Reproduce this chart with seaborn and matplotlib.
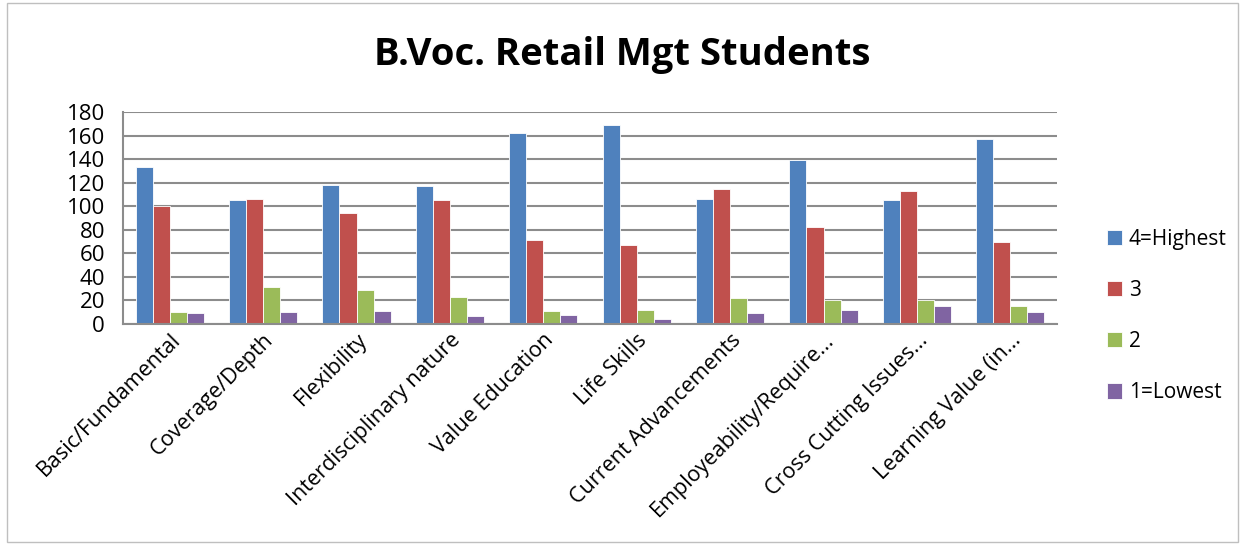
import numpy as np
import pandas as pd
import matplotlib
matplotlib.use("Agg")
import matplotlib.pyplot as plt
import seaborn as sns

categories = ["Basic/Fundamental", "Coverage/Depth", "Flexibility",
              "Interdisciplinary nature", "Value Education", "Life Skills",
              "Current Advancements", "Employeability/Require...",
              "Cross Cutting Issues...", "Learning Value (in..."]
series = ["4=Highest", "3", "2", "1=Lowest"]
highest = [133, 105, 118, 117, 162, 169, 106, 139, 105, 157]
three   = [100, 106, 94, 105, 71, 67, 115, 82, 113, 70]
two     = [10, 31, 29, 23, 11, 12, 22, 20, 20, 15]
lowest  = [9, 10, 11, 7, 8, 4, 9, 12, 15, 10]
colors = ["#4F81BD", "#C0504D", "#9BBB59", "#8064A2"]

rows = []
for s, vals in zip(series, [highest, three, two, lowest]):
    for c, v in zip(categories, vals):
        rows.append({"category": c, "rating": s, "count": v})
df = pd.DataFrame(rows)

sns.set_style("white")
plt.rcParams["font.family"] = ["Open Sans", "DejaVu Sans"]
plt.rcParams["text.color"] = "black"
plt.rcParams["xtick.color"] = "black"
plt.rcParams["ytick.color"] = "black"

fig = plt.figure(figsize=(12.45, 5.44), dpi=100)
ax = fig.add_axes([123 / 1245, 1 - 324 / 544, (1057 - 123) / 1245, (324 - 112) / 544])

sns.barplot(data=df, x="category", y="count", hue="rating", order=categories,
            hue_order=series, palette=colors, width=0.73, gap=0,
            edgecolor="white", linewidth=0.6, saturation=1, ax=ax)

ax.set_ylim(0, 180)
ax.set_yticks(range(0, 181, 20))
ax.set_xlim(-0.5, len(categories) - 0.5)
ax.yaxis.grid(True, color="#8c8c8c", linewidth=1.5)
ax.set_axisbelow(True)
for side in ["top", "right"]:
    ax.spines[side].set_visible(False)
for side in ["left", "bottom"]:
    ax.spines[side].set_color("#8c8c8c")
    ax.spines[side].set_linewidth(1.5)
ax.tick_params(axis="y", labelsize=16, length=0, pad=13)
ax.tick_params(axis="x", labelsize=15.5, length=0, pad=4)
plt.setp(ax.get_xticklabels(), rotation=45, ha="right", rotation_mode="anchor")
ax.set_xlabel("")
ax.set_ylabel("")

handles, labels = ax.get_legend_handles_labels()
ax.legend(handles, labels, loc="center left", bbox_to_anchor=(1088 / 1245, 1 - 316 / 544),
          bbox_transform=fig.transFigure, frameon=False, fontsize=15,
          labelspacing=1.45, handlelength=0.75, handleheight=0.75, handletextpad=0.3)

fig.text(0.5, 1 - 55 / 544, "B.Voc. Retail Mgt Students", ha="center", va="center",
         fontsize=27.5, fontweight="bold", color="black")

border = plt.Rectangle((0.006, 0.004), 0.988, 0.99, transform=fig.transFigure,
                       fill=False, edgecolor="#bfbfbf", linewidth=1)
fig.patches.append(border)

fig.savefig("out.png", dpi=100)
